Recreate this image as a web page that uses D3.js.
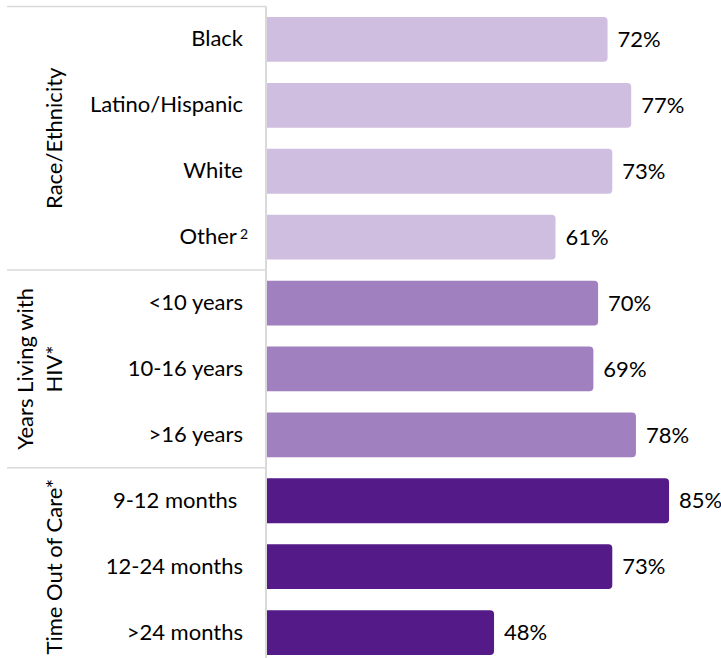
<!DOCTYPE html>
<html>
<head>
<meta charset="utf-8">
<script src="https://cdn.jsdelivr.net/npm/d3@7"></script>
<style>
  html, body { margin: 0; padding: 0; background: #fff; }
  svg { display: block; }
  text { font-family: Lato, "Noto Sans", sans-serif; fill: #000; }
</style>
</head>
<body>
<svg id="chart" width="721" height="658"></svg>
<script>
// Category rows, top to bottom
const categories = ["Black", "Latino/Hispanic", "White", "Other",
  "<10 years", "10-16 years", ">16 years",
  "9-12 months", "12-24 months", ">24 months"];
// Percentage for each row
const values = [72, 77, 73, 61, 70, 69, 78, 85, 73, 48];
// Group membership for each row
const groupOf = ["race", "race", "race", "race",
  "years", "years", "years",
  "care", "care", "care"];
// Group titles (rotated labels); multi-line titles are split into lines
const groupKeys = ["race", "years", "care"];
const groupTitles = [["Race/Ethnicity"], ["Years Living with", "HIV*"], ["Time Out of Care*"]];
const groupColors = ["#cfbedf", "#a080be", "#541b88"];
// Footnote markers attached to labels
const labelNotes = { "Other": "2" };
// Labels drawn with a trailing space
const paddedLabels = ["9-12 months"];

const svg = d3.select("#chart");
const axisX = 266;

const y = d3.scaleBand()
  .domain(categories)
  .range([6.5, 665.5])
  .paddingInner(0.32)
  .paddingOuter(0.16);

const x = d3.scaleLinear().domain([0, 100]).range([267, 740]);

const color = d3.scaleOrdinal().domain(groupKeys).range(groupColors);

// Bars: square on the axis side, rounded on the value end
const r = 4;
function barPath(v, cat) {
  const x0 = x(0), x1 = x(v), y0 = y(cat), y1 = y0 + y.bandwidth();
  return `M${x0},${y0}H${x1 - r}A${r},${r} 0 0 1 ${x1},${y0 + r}V${y1 - r}A${r},${r} 0 0 1 ${x1 - r},${y1}H${x0}Z`;
}

const rows = categories.map((c, i) => ({ cat: c, value: values[i], group: groupOf[i] }));

svg.append("g").selectAll("path")
  .data(rows)
  .join("path")
  .attr("d", d => barPath(d.value, d.cat))
  .attr("fill", d => color(d.group));

// Value labels
svg.append("g").selectAll("text")
  .data(rows)
  .join("text")
  .attr("x", d => x(d.value) + 10)
  .attr("y", d => y(d.cat) + y.bandwidth() / 2)
  .attr("dy", "0.35em")
  .style("font-size", "22px")
  .text(d => d.value + "%");

// Category axis
const axis = d3.axisLeft(y).tickSize(0).tickPadding(axisX - 243);
const axisG = svg.append("g")
  .attr("transform", `translate(${axisX},0)`)
  .call(axis);
axisG.select(".domain").remove();
axisG.selectAll(".tick text")
  .style("font-size", "22px")
  .style("font-family", "Lato, 'Noto Sans', sans-serif")
  .style("white-space", "pre")
  .attr("fill", "#000")
  .each(function (d) {
    const t = d3.select(this);
    if (paddedLabels.includes(d)) t.text(d + " ");
    if (labelNotes[d]) {
      t.text(d);
      t.attr("dx", 5);
      t.append("tspan")
        .attr("dx", 3)
        .attr("dy", "-0.35em")
        .style("font-size", "14px")
        .text(labelNotes[d]);
    }
  });

// Group separators
const step = y.step();
const boundaries = [y.range()[0]];
groupKeys.forEach(g => {
  const last = rows.filter(d => d.group === g).slice(-1)[0];
  boundaries.push(y(last.cat) + y.bandwidth() + step * y.paddingInner() / 2);
});
svg.append("g").selectAll("line")
  .data(boundaries.slice(0, 3))
  .join("line")
  .attr("x1", 7).attr("x2", axisX)
  .attr("y1", d => d).attr("y2", d => d)
  .attr("stroke", "#d9d9d9")
  .attr("stroke-width", 1.5);

// Vertical axis line
svg.append("line")
  .attr("x1", axisX).attr("x2", axisX)
  .attr("y1", boundaries[0]).attr("y2", 658)
  .attr("stroke", "#d9d9d9")
  .attr("stroke-width", 2);

// Rotated group titles, centred on each group's rows
const lineGap = 29;
groupKeys.forEach((g, gi) => {
  const grpRows = rows.filter(d => d.group === g);
  const cy = (y(grpRows[0].cat) + y(grpRows[grpRows.length - 1].cat) + y.bandwidth()) / 2;
  const lines = groupTitles[gi];
  const t = svg.append("text")
    .attr("transform", `translate(62,${cy}) rotate(-90)`)
    .attr("text-anchor", "middle")
    .style("font-size", "22px");
  lines.forEach((ln, li) => {
    t.append("tspan")
      .attr("x", 0)
      .attr("y", -(lines.length - 1 - li) * lineGap)
      .text(ln);
  });
});
</script>
</body>
</html>
